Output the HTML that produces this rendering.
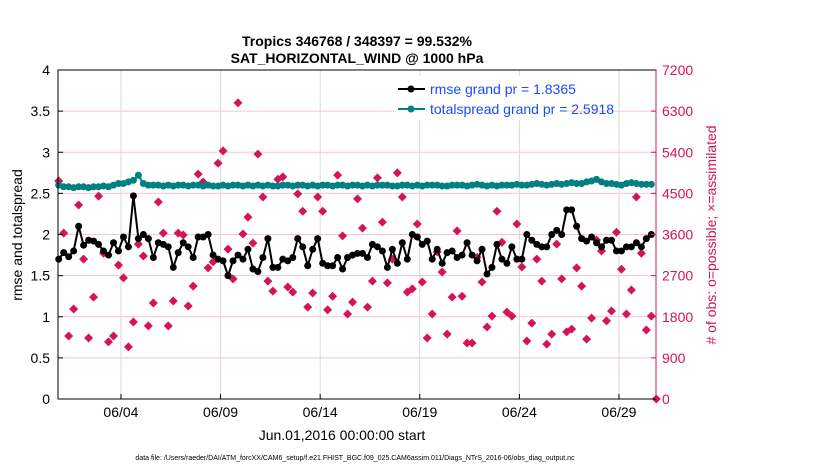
<!DOCTYPE html>
<html><head><meta charset="utf-8"><style>
body{margin:0;background:#fff}
svg{font-family:"Liberation Sans",sans-serif}
</style></head><body>
<svg id="c" width="830" height="470" xmlns="http://www.w3.org/2000/svg">
<rect width="830" height="470" fill="#fff"/>
<g id="grid"></g><g id="marks"></g><g id="axes"></g>
<text x="357" y="46" text-anchor="middle" font-size="14" font-weight="bold">Tropics 346768 / 348397 = 99.532%</text>
<text x="357" y="63" text-anchor="middle" font-size="14" font-weight="bold">SAT_HORIZONTAL_WIND @ 1000 hPa</text>
<text transform="translate(22,235) rotate(-90)" text-anchor="middle" font-size="14">rmse and totalspread</text>
<text transform="translate(716,235) rotate(-90)" text-anchor="middle" font-size="14" fill="#d4145a"># of obs: o=possible; ×=assimilated</text>
<text x="342" y="440" text-anchor="middle" font-size="14">Jun.01,2016 00:00:00 start</text>
<text x="355" y="460" text-anchor="middle" font-size="7">data file: /Users/raeder/DAI/ATM_forcXX/CAM6_setup/f.e21.FHIST_BGC.f09_025.CAM6assim.011/Diags_NTrS_2016-06/obs_diag_output.nc</text>
<g>
<rect x="394" y="76" width="172" height="44" fill="#fff"/>
<line x1="398" y1="89" x2="425" y2="89" stroke="#000" stroke-width="2"/><circle cx="411" cy="89" r="3.5" fill="#000"/>
<text x="430" y="94" font-size="14" fill="#1a4cff">rmse grand pr = 1.8365</text>
<line x1="398" y1="109" x2="425" y2="109" stroke="#008080" stroke-width="2"/><circle cx="411" cy="109" r="3.5" fill="#008080"/>
<text x="430" y="114" font-size="14" fill="#1a4cff">totalspread grand pr = 2.5918</text>
</g>
</svg>
<script>
const rmse=[1.7,1.78,1.73,1.8,2.1,1.87,1.93,1.92,1.88,1.8,
1.75,1.9,1.8,1.97,1.85,2.47,1.95,2.0,1.95,1.72,
1.9,1.88,1.85,1.6,1.78,1.9,1.85,1.72,1.97,1.97,
2.0,1.75,1.7,1.68,1.5,1.68,1.75,1.7,1.82,1.58,
1.55,1.72,1.95,1.6,1.6,1.7,1.68,1.72,1.95,1.85,
1.62,1.82,1.95,1.65,1.62,1.62,1.72,1.58,1.72,1.75,
1.77,1.77,1.72,1.88,1.85,1.8,1.6,1.82,1.65,1.9,
1.7,2.0,1.97,1.88,1.92,1.7,1.82,1.65,1.78,1.8,
1.72,1.75,1.9,1.75,1.68,1.82,1.52,1.6,1.88,1.7,
1.65,1.85,1.7,1.7,2.0,1.93,1.88,1.85,1.85,2.0,
2.05,2.0,2.3,2.3,2.1,1.95,1.92,1.97,1.9,1.85,
1.93,1.93,1.8,1.8,1.85,1.85,1.9,1.85,1.95,2.0];
const spread=[2.6,2.58,2.58,2.57,2.58,2.58,2.57,2.58,2.58,2.59,
2.58,2.6,2.62,2.62,2.64,2.66,2.72,2.62,2.6,2.6,
2.6,2.59,2.6,2.59,2.6,2.6,2.59,2.6,2.6,2.59,
2.6,2.59,2.59,2.6,2.59,2.6,2.6,2.59,2.6,2.59,
2.6,2.59,2.6,2.59,2.59,2.6,2.6,2.59,2.6,2.6,
2.59,2.6,2.59,2.6,2.6,2.59,2.6,2.6,2.59,2.6,
2.6,2.59,2.6,2.59,2.6,2.6,2.6,2.59,2.59,2.6,
2.6,2.59,2.6,2.59,2.6,2.6,2.6,2.59,2.59,2.6,
2.6,2.6,2.59,2.6,2.61,2.6,2.59,2.6,2.59,2.6,
2.6,2.6,2.61,2.6,2.6,2.61,2.62,2.61,2.6,2.61,
2.62,2.61,2.62,2.63,2.62,2.62,2.64,2.65,2.67,2.64,
2.62,2.62,2.61,2.6,2.62,2.63,2.62,2.61,2.61,2.61];
const nobs=[4770,3630,1380,1970,4245,3060,1335,2230,4440,3190,
1250,1380,2930,2650,1140,1685,3390,3130,1600,2100,
4310,3630,1600,2145,3630,3590,2035,2470,4920,4750,
2870,3000,5160,5430,3280,2630,6480,3610,3980,3410,
5360,4420,2580,2360,4810,4860,2450,2340,4490,4110,
2010,2320,4420,4110,1950,2250,4900,3570,1860,2120,
4380,3740,2010,2580,4840,3870,2540,3060,4950,4420,
2340,2410,3830,2560,1335,1860,3220,2780,1420,2230,
3680,2250,1225,1225,3100,2560,1575,1815,4110,3430,
1900,1815,3830,2890,1270,1660,3060,2580,1200,1420,
3390,2630,1470,1530,2870,2470,1310,1770,3480,3240,
1710,1925,3650,2840,1860,2385,4420,3190,1510,1815,0];
const leftTicks=[0,0.5,1,1.5,2,2.5,3,3.5,4];
const rightTicks=[0,900,1800,2700,3600,4500,5400,6300,7200];
const dateTicks=[3,8,13,18,23,28];
const dateLabels=["06/04","06/09","06/14","06/19","06/24","06/29"];
const L=58,R=656,T=70,B=399;
const xs=d=>61.2+d*19.92;              // d = days since Jun 1 00:00
const xi=i=>xs((-3+6*i)/24);
const yl=v=>B-(v/4)*(B-T);
const yr=v=>B-(v/7200)*(B-T);
const NS="http://www.w3.org/2000/svg";
function mk(tag,attrs,parent){const e=document.createElementNS(NS,tag);for(const k in attrs)e.setAttribute(k,attrs[k]);parent.appendChild(e);return e;}
const grid=document.getElementById('grid'),marks=document.getElementById('marks'),axes=document.getElementById('axes');
leftTicks.forEach((v,i)=>{if(i>0&&i<leftTicks.length-1){const g=mk('line',{x1:L,x2:R,y1:yl(v),y2:yl(v),stroke:'#f2c6d4','stroke-width':1},grid);

}
const t=mk('text',{x:L-8,y:yl(v)+5,'text-anchor':'end','font-size':14},axes);t.textContent=String(v);


mk('line',{x1:L,x2:L+5,y1:yl(v),y2:yl(v),stroke:'#000'},axes);});
rightTicks.forEach(v=>{const t=mk('text',{x:R+6,y:yr(v)+5,'font-size':14,fill:'#d4145a'},axes);t.textContent=String(v);


mk('line',{x1:R-5,x2:R,y1:yr(v),y2:yr(v),stroke:'#d4145a'},axes);});
dateTicks.forEach((d,i)=>{const g=mk('line',{x1:xs(d),x2:xs(d),y1:T,y2:B,stroke:'#d8d8d8'},grid);


mk('line',{x1:xs(d),x2:xs(d),y1:B,y2:B-5,stroke:'#000'},axes);
const t=mk('text',{x:xs(d),y:B+18,'text-anchor':'middle','font-size':14},axes);t.textContent=dateLabels[i];

});
// obs counts
nobs.forEach((v,i)=>{const x=xi(i),y=yr(v);
const p=mk('path',{d:`M${x} ${y-4.5}L${x+4.5} ${y}L${x} ${y+4.5}L${x-4.5} ${y}Z`,fill:'#d4145a'},marks);

});
function series(arr,color,name){const pts=arr.map((v,i)=>xi(i)+','+yl(v)).join(' ');
const pl=mk('polyline',{points:pts,fill:'none',stroke:color,'stroke-width':2},marks);


arr.forEach((v,i)=>{const c=mk('circle',{cx:xi(i),cy:yl(v),r:3.5,fill:color},marks);

});}
series(spread,'#008080','totalspread');
series(rmse,'#000','rmse');
const f=mk('rect',{x:L,y:T,width:R-L,height:B-T,fill:'none',stroke:'#000'},axes);


const ra=mk('line',{x1:R,x2:R,y1:T,y2:B,stroke:'#d4145a'},axes);


</script>
</body></html>
